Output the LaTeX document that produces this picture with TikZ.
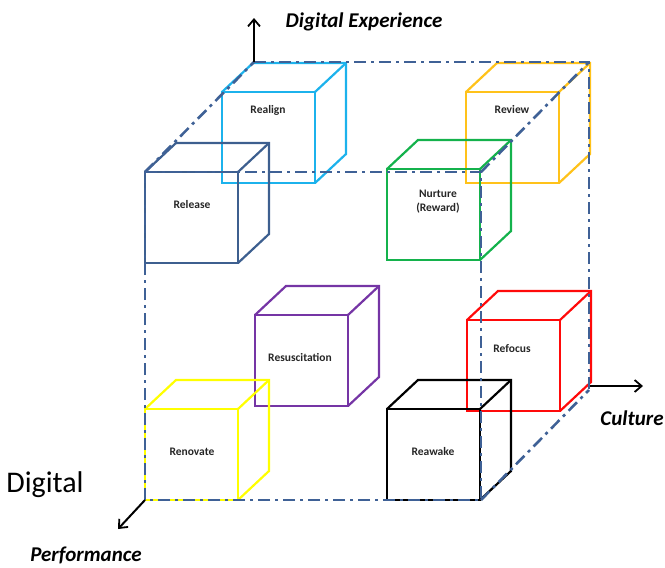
\documentclass[tikz,border=0pt]{standalone}
\usepackage{fontspec}
\setmainfont{Carlito}
\usetikzlibrary{arrows.meta}
\definecolor{frameblue}{HTML}{3F6196}
\definecolor{releaseblue}{HTML}{3D5F8F}
\definecolor{realigncyan}{HTML}{1CB2EC}
\definecolor{reviewgold}{HTML}{FFC21A}
\definecolor{nurturegreen}{HTML}{14B24C}
\definecolor{resuspurple}{HTML}{7535A5}
\definecolor{renovateyellow}{HTML}{FFFF00}
\definecolor{refocusred}{HTML}{FF0A0A}
\tikzset{
  cubeline/.style={line width=2.2pt, line join=miter},
  frame/.style={frameblue, line width=2.6pt, dash pattern=on 12pt off 5pt on 3pt off 5pt},
  axis/.style={black, line width=2pt, -{Straight Barb[length=7pt, width=12pt, line width=1.8pt]}},
  cubelabel/.style={font=\fontsize{11.5}{14}\selectfont\bfseries, text=black!85, align=center, inner sep=0pt},
  axislabel/.style={font=\fontsize{21}{24}\selectfont\bfseries\itshape, inner sep=0pt}
}
% open cube: front face at (#1,#2), side 93 x 91, depth (31,-29)
\newcommand{\opencube}[3]{%
  \draw[cubeline, #3] (#1,#2) rectangle ++(93,91);
  \draw[cubeline, #3] (#1,#2) -- ++(31,-29) -- ++(93,0) -- ++(0,91) -- ++(-31,29);
  \draw[cubeline, #3] (#1+93,#2) -- ++(31,-29);
}
\begin{document}
\begin{tikzpicture}[x=1pt, y=-1pt]
\useasboundingbox (0,0) rectangle (665,568);

% the eight cubes
\opencube{222}{92}{realigncyan}
\opencube{466}{92}{reviewgold}
\opencube{145}{172}{releaseblue}
\opencube{387}{169}{nurturegreen}
\opencube{255}{315}{resuspurple}
\opencube{467}{320}{refocusred}
\opencube{145}{409}{renovateyellow}
\opencube{387}{409}{black}

\node[cubelabel] (realign) at (268,110) {Realign};
\node[cubelabel] (review) at (512,110) {Review};
\node[cubelabel] (release) at (192,205) {Release};
\node[cubelabel] (nurture) at (438,202) {Nurture\\(Reward)};
\node[cubelabel] (resus) at (300,357) {Resuscitation};
\node[cubelabel] (refocus) at (512,349) {Refocus};
\node[cubelabel] (renovate) at (192,452) {Renovate};
\node[cubelabel] (reawake) at (433,452) {Reawake};

% outer dash-dot cube
\coordinate (ftl) at (145,172);
\coordinate (ftr) at (481,172);
\coordinate (fbr) at (481,500);
\coordinate (fbl) at (145,500);
\coordinate (btl) at (254,62);
\coordinate (btr) at (589,62);
\coordinate (bbr) at (589,390);
\draw[frame] (ftl) -- (ftr) -- (fbr) -- (fbl) -- cycle;
\draw[frame] (btl) -- (btr) -- (bbr);
\draw[frame] (ftl) -- (btl);
\draw[frame] (ftr) -- (btr);
\draw[frame] (fbr) -- (bbr);

% axes
\coordinate (upend) at (254,18);
\coordinate (rstart) at (590,386);
\coordinate (rend) at (643,386);
\coordinate (dlend) at (118,529);
\draw[axis] (btl) -- (upend);
\draw[axis] (rstart) -- (rend);
\draw[axis] (fbl) -- (dlend);

\node[axislabel] (dexp) at (364,22) {Digital Experience};
\node[axislabel] (culture) at (632,418) {Culture};
\node[axislabel] (perf) at (86,555) {Performance};
\node[font=\fontsize{30}{34}\selectfont, inner sep=0pt] (digital) at (45,485) {Digital};
\end{tikzpicture}
\end{document}
